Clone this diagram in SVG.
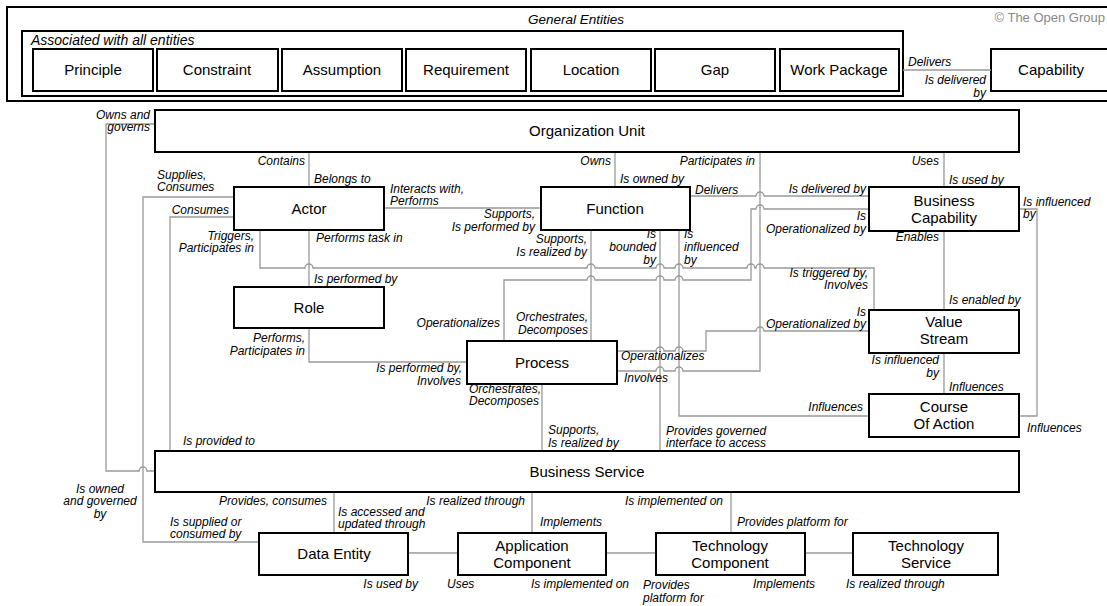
<svg xmlns="http://www.w3.org/2000/svg" width="1107" height="606" viewBox="0 0 1107 606">
<style>
.frame{fill:#fff;stroke:#000;stroke-width:2}
.box{fill:#fff;stroke:#000;stroke-width:2}
.n{font-family:"Liberation Sans",Arial,sans-serif;font-size:15px;text-anchor:middle;fill:#000}
.l{font-family:"Liberation Sans",Arial,sans-serif;font-size:12px;font-style:italic;fill:#000}
.r{text-anchor:end}
.m{text-anchor:middle}
.c{fill:none;stroke:#999;stroke-width:1.3}
</style>
<rect width="1107" height="606" fill="#fff"/>
<g id="general-entities">
<rect class="frame" x="7" y="7" width="1110" height="94"/>
<text class="l m" x="576" y="24" style="font-size:13.5px">General Entities</text>
<text x="1105" y="22" text-anchor="end" style="font-family:'Liberation Sans',Arial,sans-serif;font-size:13px;fill:#888">© The Open Group</text>
<rect class="frame" x="22" y="31" width="881" height="65"/>
<text class="l" x="31" y="45" style="font-size:14px">Associated with all entities</text>
</g>
<g id="principle"><rect class="box" x="33" y="49" width="120" height="42"/><text class="n" x="93" y="75">Principle</text></g>
<g id="constraint"><rect class="box" x="157" y="49" width="121" height="42"/><text class="n" x="217" y="75">Constraint</text></g>
<g id="assumption"><rect class="box" x="282" y="49" width="120" height="42"/><text class="n" x="342" y="75">Assumption</text></g>
<g id="requirement"><rect class="box" x="406" y="49" width="120" height="42"/><text class="n" x="466" y="75">Requirement</text></g>
<g id="location"><rect class="box" x="531" y="49" width="120" height="42"/><text class="n" x="591" y="75">Location</text></g>
<g id="gap"><rect class="box" x="655" y="49" width="120" height="42"/><text class="n" x="715" y="75">Gap</text></g>
<g id="work-package"><rect class="box" x="780" y="49" width="119" height="42"/><text class="n" x="839" y="75">Work Package</text></g>
<g id="capability"><rect class="box" x="991" y="49" width="124" height="42"/><text class="n" x="1051" y="75">Capability</text></g>

<g id="connectors">
<path class="c" d="M903 70 H991"/>
<path class="c" d="M309 152 V186"/>
<path class="c" d="M615 152 V186"/>
<path class="c" d="M617 371 H656 A4 4 0 0 1 664 371 H675 A4 4 0 0 1 683 371 H760 V152"/>
<path class="c" d="M944 152 V188"/>
<path class="c" d="M155 124 H106 V471 H139 A4 4 0 0 1 147 471 H155"/>
<path class="c" d="M384 208 H541"/>
<path class="c" d="M234 197 H143 V542 H260"/>
<path class="c" d="M234 217 H170 V451"/>
<path class="c" d="M260 230 V268 H305 A4 4 0 0 1 313 268 H587 A4 4 0 0 1 595 268 H656 A4 4 0 0 1 664 268 H675 A4 4 0 0 1 683 268 H747 A4 4 0 0 1 755 268 H756 A4 4 0 0 1 764 268 H874 V310"/>
<path class="c" d="M309 230 V287"/>
<path class="c" d="M309 328 V362 H467"/>
<path class="c" d="M591 230 V341"/>
<path class="c" d="M660 230 V451"/>
<path class="c" d="M679 230 V416 H869"/>
<path class="c" d="M690 196 H756 A4 4 0 0 1 764 196 H869"/>
<path class="c" d="M504 341 V280 H587 A4 4 0 0 1 595 280 H656 A4 4 0 0 1 664 280 H675 A4 4 0 0 1 683 280 H751 V209 H756 A4 4 0 0 1 764 209 H869"/>
<path class="c" d="M617 351 H656 A4 4 0 0 1 664 351 H675 A4 4 0 0 1 683 351 H706 V331 H756 A4 4 0 0 1 764 331 H869"/>
<path class="c" d="M542 384 V451"/>
<path class="c" d="M944 231 V310"/>
<path class="c" d="M1019 209 H1037 V416 H1019"/>
<path class="c" d="M944 353 V394"/>
<path class="c" d="M334 492 V533"/>
<path class="c" d="M532 492 V533"/>
<path class="c" d="M731 492 V533"/>
<path class="c" d="M408 553 H458"/>
<path class="c" d="M606 553 H656"/>
<path class="c" d="M805 553 H853"/>
</g>

<g id="labels">
<text class="l" x="908" y="66">Delivers</text>
<text class="l r" x="986" y="84">Is delivered</text>
<text class="l r" x="986" y="97">by</text>
<text class="l r" x="150" y="119">Owns and</text>
<text class="l r" x="150" y="131">governs</text>
<text class="l r" x="305" y="165">Contains</text>
<text class="l" x="314" y="183">Belongs to</text>
<text class="l r" x="611" y="165">Owns</text>
<text class="l" x="620" y="183">Is owned by</text>
<text class="l r" x="755" y="165">Participates in</text>
<text class="l r" x="939" y="165">Uses</text>
<text class="l" x="949" y="184">Is used by</text>
<text class="l" x="157" y="179">Supplies,</text>
<text class="l" x="157" y="191">Consumes</text>
<text class="l r" x="229" y="214">Consumes</text>
<text class="l" x="390" y="193">Interacts with,</text>
<text class="l" x="390" y="205">Performs</text>
<text class="l r" x="535" y="218">Supports,</text>
<text class="l r" x="535" y="231">Is performed by</text>
<text class="l r" x="254" y="240">Triggers,</text>
<text class="l r" x="254" y="252">Participates in</text>
<text class="l" x="316" y="242">Performs task in</text>
<text class="l" x="314" y="283">Is performed by</text>
<text class="l" x="695" y="194">Delivers</text>
<text class="l r" x="866" y="193">Is delivered by</text>
<text class="l r" x="587" y="243">Supports,</text>
<text class="l r" x="587" y="256">Is realized by</text>
<text class="l r" x="656" y="238">Is</text>
<text class="l r" x="656" y="251">bounded</text>
<text class="l r" x="656" y="264">by</text>
<text class="l" x="684" y="238">Is</text>
<text class="l" x="684" y="251">influenced</text>
<text class="l" x="684" y="264">by</text>
<text class="l r" x="866" y="220">Is</text>
<text class="l r" x="866" y="233">Operationalized by</text>
<text class="l" x="1023" y="206">Is influenced</text>
<text class="l" x="1023" y="218">by</text>
<text class="l r" x="939" y="241">Enables</text>
<text class="l r" x="868" y="277">Is triggered by,</text>
<text class="l r" x="868" y="289">Involves</text>
<text class="l" x="949" y="304">Is enabled by</text>
<text class="l r" x="866" y="316">Is</text>
<text class="l r" x="866" y="328">Operationalized by</text>
<text class="l r" x="939" y="364">Is influenced</text>
<text class="l r" x="939" y="377">by</text>
<text class="l" x="949" y="391">Influences</text>
<text class="l r" x="863" y="411">Influences</text>
<text class="l" x="1027" y="432">Influences</text>
<text class="l r" x="500" y="327">Operationalizes</text>
<text class="l r" x="588" y="321">Orchestrates,</text>
<text class="l r" x="588" y="334">Decomposes</text>
<text class="l r" x="305" y="342">Performs,</text>
<text class="l r" x="305" y="355">Participates in</text>
<text class="l r" x="462" y="372">Is performed by,</text>
<text class="l r" x="461" y="385">Involves</text>
<text class="l" x="621" y="360">Operationalizes</text>
<text class="l" x="624" y="382">Involves</text>
<text class="l" x="469" y="393">Orchestrates,</text>
<text class="l" x="469" y="405">Decomposes</text>
<text class="l" x="548" y="434">Supports,</text>
<text class="l" x="548" y="447">Is realized by</text>
<text class="l" x="666" y="435">Provides governed</text>
<text class="l" x="666" y="447">interface to access</text>
<text class="l" x="183" y="445">Is provided to</text>
<text class="l m" x="100" y="493">Is owned</text>
<text class="l m" x="100" y="505">and governed</text>
<text class="l m" x="100" y="518">by</text>
<text class="l r" x="327" y="505">Provides, consumes</text>
<text class="l" x="338" y="516">Is accessed and</text>
<text class="l" x="338" y="528">updated through</text>
<text class="l" x="170" y="526">Is supplied or</text>
<text class="l" x="170" y="538">consumed by</text>
<text class="l r" x="525" y="505">Is realized through</text>
<text class="l" x="540" y="526">Implements</text>
<text class="l r" x="723" y="505">Is implemented on</text>
<text class="l" x="737" y="526">Provides platform for</text>
<text class="l r" x="418" y="588">Is used by</text>
<text class="l" x="447" y="588">Uses</text>
<text class="l r" x="629" y="588">Is implemented on</text>
<text class="l" x="643" y="589">Provides</text>
<text class="l" x="643" y="602">platform for</text>
<text class="l r" x="815" y="588">Implements</text>
<text class="l" x="846" y="588">Is realized through</text>
</g>

<g id="organization-unit"><rect class="box" x="155" y="110" width="864" height="42"/><text class="n" x="587" y="136">Organization Unit</text></g>
<g id="actor"><rect class="box" x="234" y="187" width="150" height="43"/><text class="n" x="309" y="214">Actor</text></g>
<g id="function"><rect class="box" x="541" y="187" width="149" height="43"/><text class="n" x="615" y="214">Function</text></g>
<g id="business-capability"><rect class="box" x="869" y="187" width="150" height="44"/><text class="n" x="944" y="206">Business</text><text class="n" x="944" y="223">Capability</text></g>
<g id="role"><rect class="box" x="234" y="287" width="150" height="41"/><text class="n" x="309" y="313">Role</text></g>
<g id="process"><rect class="box" x="467" y="341" width="150" height="43"/><text class="n" x="542" y="368">Process</text></g>
<g id="value-stream"><rect class="box" x="869" y="310" width="150" height="43"/><text class="n" x="944" y="327">Value</text><text class="n" x="944" y="344">Stream</text></g>
<g id="course-of-action"><rect class="box" x="869" y="394" width="150" height="43"/><text class="n" x="944" y="412">Course</text><text class="n" x="944" y="429">Of Action</text></g>
<g id="business-service"><rect class="box" x="155" y="451" width="864" height="41"/><text class="n" x="587" y="477">Business Service</text></g>
<g id="data-entity"><rect class="box" x="259" y="533" width="149" height="42"/><text class="n" x="334" y="559">Data Entity</text></g>
<g id="application-component"><rect class="box" x="458" y="533" width="148" height="42"/><text class="n" x="532" y="551">Application</text><text class="n" x="532" y="568">Component</text></g>
<g id="technology-component"><rect class="box" x="656" y="533" width="149" height="42"/><text class="n" x="730" y="551">Technology</text><text class="n" x="730" y="568">Component</text></g>
<g id="technology-service"><rect class="box" x="853" y="533" width="145" height="42"/><text class="n" x="926" y="551">Technology</text><text class="n" x="926" y="568">Service</text></g>
</svg>
